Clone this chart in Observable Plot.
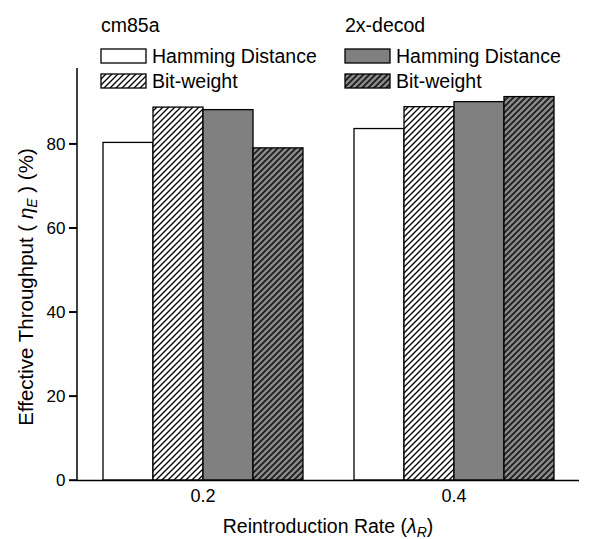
<!DOCTYPE html>
<html>
<head>
<meta charset="utf-8">
<script src="https://cdn.jsdelivr.net/npm/d3@7"></script>
<script src="https://cdn.jsdelivr.net/npm/@observablehq/plot@0.6"></script>
<style>
  html, body { margin: 0; padding: 0; background: white; }
  #chart { width: 589px; height: 539px; }
  #chart g[aria-label="fx-axis tick label"] { font-size: 18px; }
  #chart g[aria-label="y-axis tick label"] { font-size: 17px; }
</style>
</head>
<body>
<div id="chart"></div>
<script>
// ---- data ----
const rates = ["0.2", "0.4"];
const series = ["cm85a Hamming Distance", "cm85a Bit-weight", "2x-decod Hamming Distance", "2x-decod Bit-weight"];
const values02 = [80.3, 88.7, 88.1, 79.0];
const values04 = [83.6, 88.8, 90.0, 91.2];
const yTicks = [0, 20, 40, 60, 80];
const legendTitles = ["cm85a", "2x-decod"];
const legendLabels = ["Hamming Distance", "Bit-weight"];
const fills = ["white", "url(#hatchLight)", "#808080", "url(#hatchDark)"];

const valuesByRate = [values02, values04];
const data = rates.flatMap((r, i) => series.map((s, j) => ({rate: r, series: s, value: valuesByRate[i][j]})));

const font = "'Liberation Sans', Arial, sans-serif";

const chart = Plot.plot({
  width: 589,
  height: 539,
  marginLeft: 77,
  marginRight: 10,
  marginTop: 68,
  marginBottom: 59,
  style: {fontFamily: font, fontSize: "17px", color: "black", background: "white"},
  fx: {domain: rates, padding: 0, axis: null},
  x: {domain: series, paddingInner: 0, paddingOuter: 0.47, axis: null},
  y: {domain: [0, 98], axis: null},
  color: {domain: series, range: fills},
  marks: [
    Plot.barY(data, {fx: "rate", x: "series", y: "value", fill: "series", stroke: "black", strokeWidth: 1.3}),
    Plot.ruleY([0], {stroke: "black", strokeWidth: 1.4}),
    Plot.axisY({ticks: yTicks, tickSize: 8, tickPadding: 4, fontSize: 17, label: null, strokeWidth: 1.4}),
    Plot.axisFx({anchor: "bottom", tickSize: 0, tickPadding: 9, fontSize: 18, label: null})
  ]
});
document.getElementById("chart").appendChild(chart);

const svgNode = chart.tagName.toLowerCase() === "svg" ? chart : chart.querySelector("svg");
const svg = d3.select(svgNode);

// hatch patterns
const defs = svg.insert("defs", ":first-child");
function hatch(id, bg, lineColor, sw) {
  const p = defs.append("pattern").attr("id", id).attr("patternUnits", "userSpaceOnUse")
    .attr("width", 6).attr("height", 6);
  p.append("rect").attr("width", 6).attr("height", 6).attr("fill", bg);
  p.append("path").attr("d", "M-1.5,1.5 L1.5,-1.5 M0,6 L6,0 M4.5,7.5 L7.5,4.5")
    .attr("stroke", lineColor).attr("stroke-width", sw).attr("stroke-linecap", "square");
}
hatch("hatchLight", "white", "black", 1.3);
hatch("hatchDark", "#8a8a8a", "#1a1a1a", 1.7);

// y-axis line and tick marks, from the scales
const yS = chart.scale("y");
const fxS = chart.scale("fx");
const axisX = fxS.apply(rates[0]);
svg.append("line")
  .attr("x1", axisX).attr("x2", axisX)
  .attr("y1", yS.apply(yS.domain[1])).attr("y2", yS.apply(0))
  .attr("stroke", "black").attr("stroke-width", 1.5);
yTicks.forEach(t => {
  const y = yS.apply(t);
  svg.append("line").attr("x1", axisX - 8).attr("x2", axisX).attr("y1", y).attr("y2", y)
    .attr("stroke", "black").attr("stroke-width", 1.5);
});

// y-axis label
const yl = svg.append("text")
  .attr("transform", "translate(33,287) rotate(-90)")
  .attr("text-anchor", "middle")
  .attr("font-family", font).attr("font-size", 20.5).attr("fill", "black");
yl.append("tspan").text("Effective Throughput ( ");
yl.append("tspan").attr("font-style", "italic").text("η");
yl.append("tspan").attr("font-style", "italic").attr("font-size", 14).attr("dy", 4).text("E");
yl.append("tspan").attr("dy", -4).text(" ) (%)");

// x-axis label
const xl = svg.append("text")
  .attr("x", 328).attr("y", 533)
  .attr("text-anchor", "middle")
  .attr("font-family", font).attr("font-size", 19.5).attr("fill", "black");
xl.append("tspan").text("Reintroduction Rate (");
xl.append("tspan").attr("font-style", "italic").text("λ");
xl.append("tspan").attr("font-style", "italic").attr("font-size", 14).attr("dy", 4).text("R");
xl.append("tspan").attr("dy", -4).text(")");

// legend
const colX = [101, 345];
const rowY = [49, 74];
legendTitles.forEach((t, c) => {
  svg.append("text").attr("x", colX[c]).attr("y", 32).attr("text-anchor", "start")
    .attr("font-family", font).attr("font-size", 19.5).attr("fill", "black").text(t);
  legendLabels.forEach((l, r) => {
    const k = c * 2 + r;
    svg.append("rect").attr("x", colX[c]).attr("y", rowY[r]).attr("width", 45).attr("height", 14)
      .attr("fill", fills[k]).attr("stroke", "black").attr("stroke-width", 1.3);
    svg.append("text").attr("x", colX[c] + 51).attr("y", rowY[r] + 14).attr("text-anchor", "start")
      .attr("font-family", font).attr("font-size", 19.5).attr("fill", "black").text(l);
  });
});
</script>
</body>
</html>
